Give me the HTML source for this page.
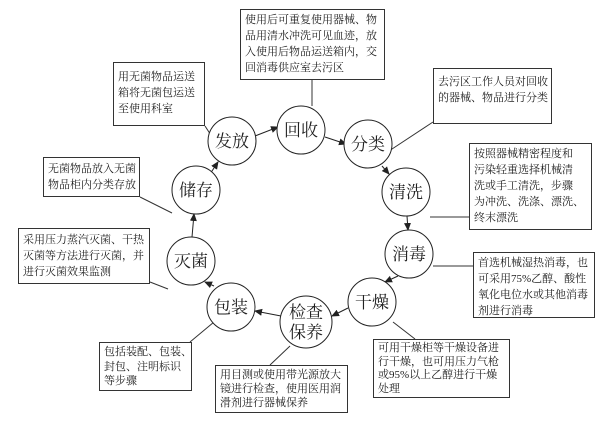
<!DOCTYPE html>
<html><head><meta charset="utf-8"><style>
body{margin:0;width:607px;height:423px;background:#fff;position:relative;overflow:hidden;font-family:"Liberation Serif","Noto Serif CJK SC","Noto Sans CJK SC",serif;color:#222}
.b{position:absolute;border:1px solid #333;background:#fff;font-size:11px;line-height:16px;padding:2px 4px;box-sizing:border-box;white-space:nowrap;overflow:hidden}
svg{position:absolute;left:0;top:0}
</style></head><body>
<svg width="607" height="423">
<defs><marker id="a" markerWidth="8" markerHeight="8" refX="7" refY="4" orient="auto" markerUnits="userSpaceOnUse"><path d="M0,0.5 L8,4 L0,7.5 z" fill="#222"/></marker></defs>
<g stroke="#333" stroke-width="1" fill="none">
<line x1="312" y1="80" x2="312" y2="106"/>
<line x1="433" y1="122" x2="389" y2="151"/>
<line x1="430" y1="217" x2="469" y2="217"/>
<line x1="433" y1="266" x2="473" y2="266"/>
<line x1="393" y1="322" x2="415" y2="339"/>
<line x1="290" y1="346" x2="270" y2="365"/>
<line x1="214" y1="322" x2="190" y2="342"/>
<line x1="150" y1="282" x2="168" y2="289"/>
<line x1="140" y1="197" x2="172" y2="213"/>
<line x1="205" y1="126" x2="218" y2="146"/>
</g>
<g stroke="#222" stroke-width="1" marker-end="url(#a)">
<line x1="325" y1="137" x2="346" y2="144"/>
<line x1="382" y1="166" x2="389" y2="174"/>
<line x1="407" y1="216" x2="408" y2="230"/>
<line x1="398" y1="276" x2="385" y2="282"/>
<line x1="348" y1="308" x2="332" y2="316"/>
<line x1="281" y1="316" x2="255" y2="311"/>
<line x1="214" y1="286" x2="205" y2="282"/>
<line x1="192" y1="237" x2="194" y2="214"/>
<line x1="210" y1="174" x2="218" y2="162"/>
<line x1="255" y1="136" x2="278" y2="127"/>
</g>
<g stroke="#222" stroke-width="1" fill="#fff">
<circle cx="301" cy="130" r="24"/>
<circle cx="368" cy="144" r="24"/>
<circle cx="406" cy="192" r="24"/>
<circle cx="409" cy="254" r="24"/>
<circle cx="372" cy="302" r="24"/>
<circle cx="306" cy="322" r="26"/>
<circle cx="231" cy="307" r="24"/>
<circle cx="191" cy="261" r="24"/>
<circle cx="196" cy="190" r="24"/>
<circle cx="232" cy="141" r="24"/>
</g>
<g font-size="17" text-anchor="middle" fill="#222" font-family="Liberation Serif,Noto Serif CJK SC,serif">
<text x="301" y="136">回收</text>
<text x="368" y="150">分类</text>
<text x="406" y="198">清洗</text>
<text x="409" y="260">消毒</text>
<text x="372" y="308">干燥</text>
<text x="306" y="318">检查</text>
<text x="306" y="338">保养</text>
<text x="231" y="313">包装</text>
<text x="191" y="267">灭菌</text>
<text x="196" y="196">储存</text>
<text x="232" y="147">发放</text>
</g>
</svg>
<div class="b" style="left:240px;top:9px;width:145px;height:71px">使用后可重复使用器械、物<br>品用清水冲洗可见血迹，放<br>入使用后物品运送箱内，交<br>回消毒供应室去污区</div>
<div class="b" style="left:433px;top:68px;width:119px;height:56px;padding-top:5px">去污区工作人员对回收<br>的器械、物品进行分类</div>
<div class="b" style="left:469px;top:143px;width:123px;height:87px">按照器械精密程度和<br>污染轻重选择机械清<br>洗或手工清洗，步骤<br>为冲洗、洗涤、漂洗、<br>终末漂洗</div>
<div class="b" style="left:473px;top:252px;width:122px;height:66px">首选机械湿热消毒，也<br>可采用75%乙醇、酸性<br>氧化电位水或其他消毒<br>剂进行消毒</div>
<div class="b" style="left:373px;top:339px;width:137px;height:59px;line-height:13.5px">可用干燥柜等干燥设备进<br>行干燥，也可用压力气枪<br>或95%以上乙醇进行干燥<br>处理</div>
<div class="b" style="left:215px;top:365px;width:133px;height:48px;line-height:14px">用目测或使用带光源放大<br>镜进行检查，使用医用润<br>滑剂进行器械保养</div>
<div class="b" style="left:99px;top:342px;width:93px;height:49px;line-height:14.5px">包括装配、包装、<br>封包、注明标识<br>等步骤</div>
<div class="b" style="left:18px;top:228px;width:132px;height:56px;padding-top:3px">采用压力蒸汽灭菌、干热<br>灭菌等方法进行灭菌，并<br>进行灭菌效果监测</div>
<div class="b" style="left:43px;top:157px;width:97px;height:40px;padding-top:3px">无菌物品放入无菌<br>物品柜内分类存放</div>
<div class="b" style="left:113px;top:62px;width:92px;height:64px;padding-top:6px">用无菌物品运送<br>箱将无菌包运送<br>至使用科室</div>
</body></html>
